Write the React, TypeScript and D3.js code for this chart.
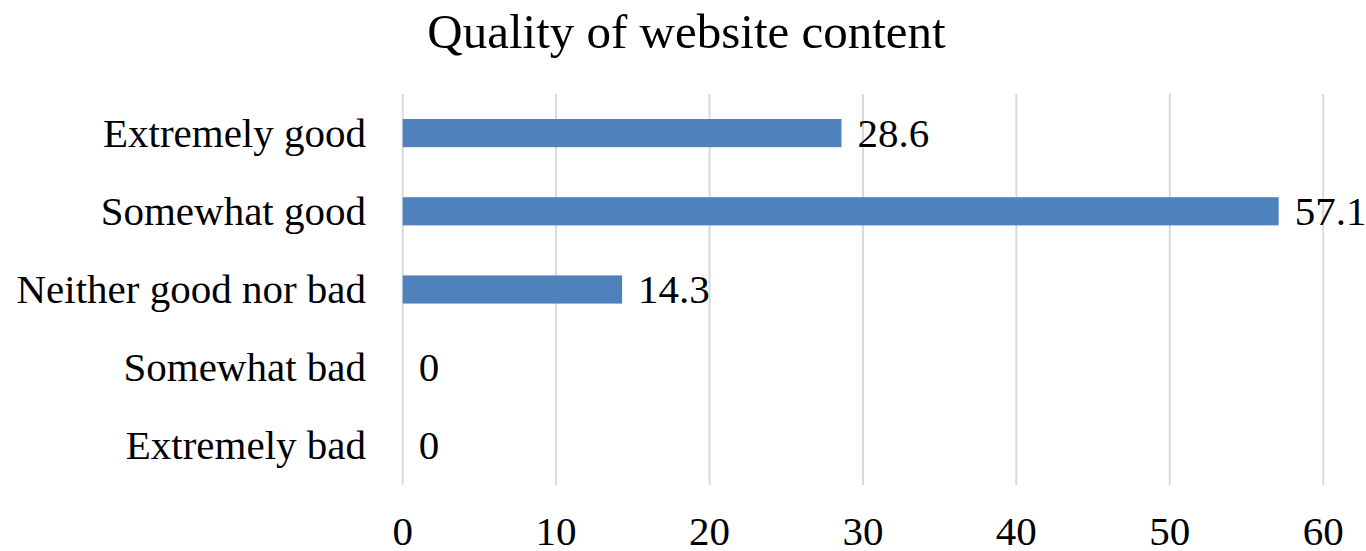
import React from "react";
import * as d3 from "d3";

const title = "Quality of website content";
const categories = ["Extremely good", "Somewhat good", "Neither good nor bad", "Somewhat bad", "Extremely bad"];
const values = [28.6, 57.1, 14.3, 0, 0];
const valueLabels = ["28.6", "57.1", "14.3", "0", "0"];
const ticks = [0, 10, 20, 30, 40, 50, 60];

export default function App() {
  const W = 1366, H = 551;
  const x = d3.scaleLinear().domain([0, 60]).range([402.7, 1323.2]);
  const y = d3.scaleBand().domain(categories).range([94, 485]).paddingInner(0.64).paddingOuter(0.32);
  const font = "'Liberation Serif', 'Times New Roman', serif";
  return (
    <svg width={W} height={H} style={{ position: "absolute", left: 0, top: 0, background: "#fff" }} fontFamily={font}>
      <text x={(427 + 946) / 2} y={48} textAnchor="middle" fontSize={49} fill="#000">{title}</text>
      {ticks.map((t) => (
        <line key={"g" + t} x1={x(t)} x2={x(t)} y1={94} y2={485} stroke="#d9d9d9" strokeWidth={2} />
      ))}
      {categories.map((c, i) => (
        <rect key={c} x={x(0)} y={y(c)!} width={x(values[i]) - x(0)} height={y.bandwidth()} fill="#4f81bd" />
      ))}
      {categories.map((c) => (
        <text key={"c" + c} x={366} y={y(c)! + y.bandwidth() / 2} dy="0.33em" textAnchor="end" fontSize={41} fill="#000">{c}</text>
      ))}
      {categories.map((c, i) => (
        <text key={"v" + c} x={x(values[i]) + 16} y={y(c)! + y.bandwidth() / 2} dy="0.33em" textAnchor="start" fontSize={41} fill="#000">{valueLabels[i]}</text>
      ))}
      {ticks.map((t) => (
        <text key={"t" + t} x={x(t)} y={545} textAnchor="middle" fontSize={41} fill="#000">{t}</text>
      ))}
    </svg>
  );
}
